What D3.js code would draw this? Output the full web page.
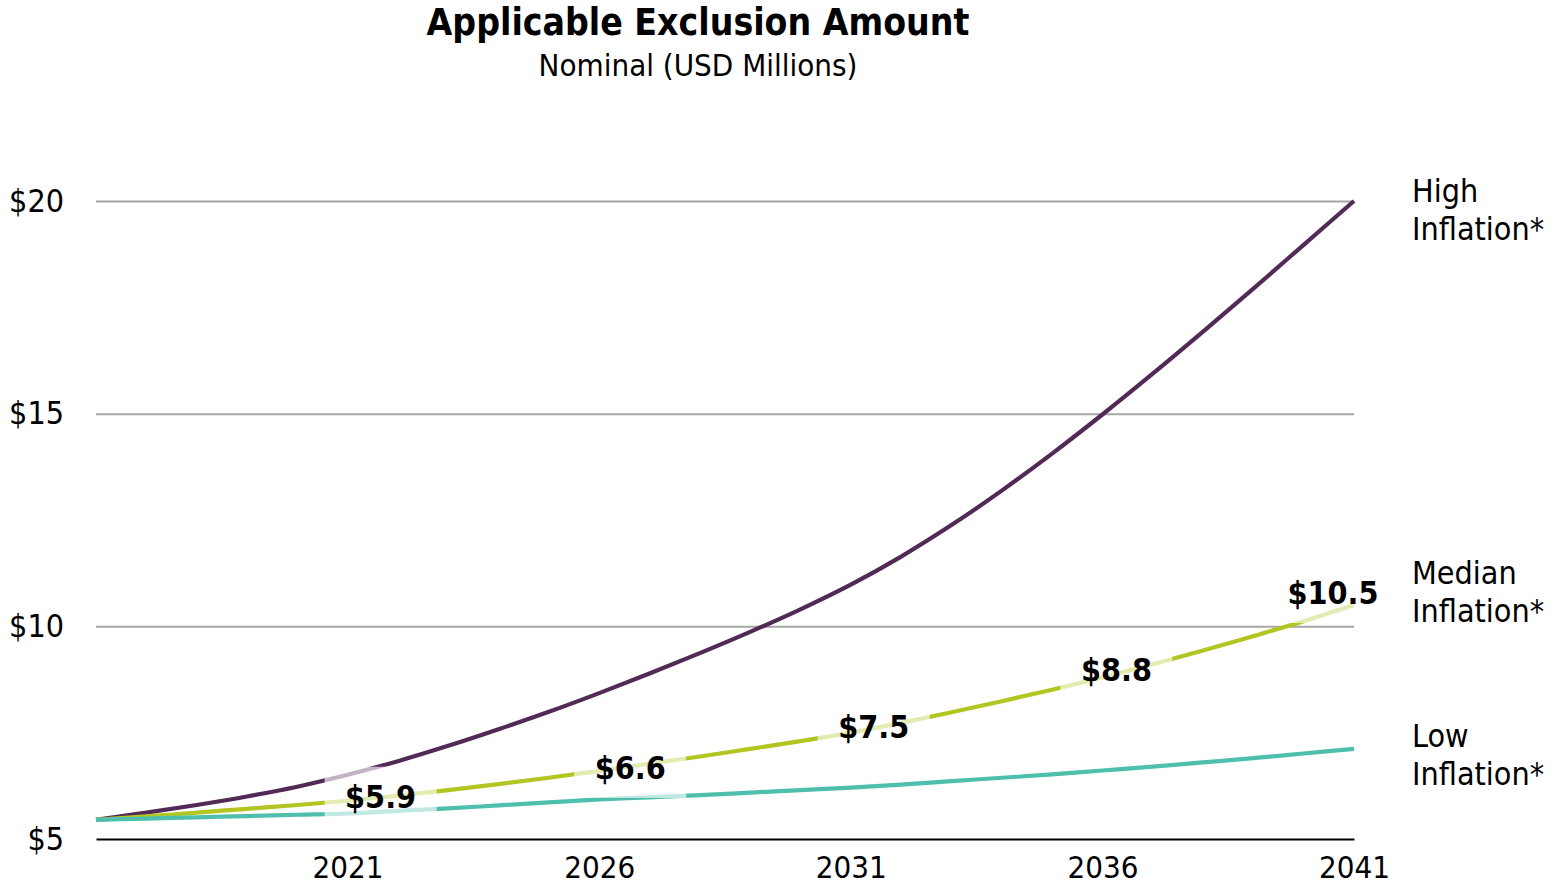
<!DOCTYPE html>
<html><head><meta charset="utf-8">
<script src="https://cdn.jsdelivr.net/npm/d3@7"></script>
<style>
html,body{margin:0;padding:0;background:#fff;}
svg text{font-family:"DejaVu Sans Condensed","DejaVu Sans",sans-serif;font-stretch:condensed;}
</style></head>
<body>
<svg id="chart" width="1560" height="887"></svg>
<script>
// ---- data ----
const years = [2016,2017,2018,2019,2020,2021,2022,2023,2024,2025,2026,2027,2028,2029,2030,2031,2032,2033,2034,2035,2036,2037,2038,2039,2040,2041];
const highInflation = [5.45,5.62,5.80,6.00,6.23,6.51,6.83,7.19,7.58,7.99,8.43,8.89,9.37,9.87,10.40,10.98,11.64,12.38,13.19,14.06,14.98,15.94,16.93,17.94,18.97,20.0];
const medianInflation = [5.45,5.53,5.62,5.71,5.80,5.90,6.02,6.15,6.29,6.44,6.60,6.77,6.94,7.12,7.30,7.50,7.73,7.98,8.24,8.51,8.80,9.11,9.43,9.77,10.12,10.50];
const lowInflation = [5.45,5.48,5.51,5.54,5.57,5.60,5.66,5.72,5.79,5.86,5.93,5.98,6.03,6.09,6.15,6.21,6.28,6.36,6.44,6.52,6.61,6.70,6.80,6.90,7.01,7.12];
const seriesNames = [["High","Inflation*"],["Median","Inflation*"],["Low","Inflation*"]];
const labelYears = [2021,2026,2031,2036,2041];
const labelValues = [5.9,6.6,7.5,8.8,10.5];
const labelTexts = ["$5.9","$6.6","$7.5","$8.8","$10.5"];
const xTicks = [2021,2026,2031,2036,2041];
const yTicks = [5,10,15,20];
const title = "Applicable Exclusion Amount";
const subtitle = "Nominal (USD Millions)";

// ---- layout ----
const colors = ["#522a56","#b2c521","#4fbfad"];
const labelDx = [33,31,23,14,-21];
const labelDy = [-4,-3,-6,-7,-12];
const nameY = [212,594,757];

const svg = d3.select("#chart");
const x = d3.scaleLinear().domain([2016,2041]).range([96,1354]);
const y = d3.scaleLinear().domain([5,20]).range([839,201]);

// title
svg.append("text").attr("x",698).attr("y",35).attr("text-anchor","middle")
  .style("font-size","37px").style("font-weight","bold").text(title);
svg.append("text").attr("x",698).attr("y",76).attr("text-anchor","middle")
  .style("font-size","31px").text(subtitle);

// gridlines
const gy = svg.append("g").attr("transform","translate(96,0)")
  .call(d3.axisLeft(y).tickValues(yTicks.filter(d=>d>5)).tickSize(-(1354-96)).tickFormat(""));
gy.select(".domain").remove();
gy.selectAll(".tick line").attr("stroke","#a6a6a6").attr("stroke-width",2);

// y labels
const yl = svg.append("g").attr("transform","translate(64,0)")
  .call(d3.axisLeft(y).tickValues(yTicks).tickSize(0).tickPadding(0).tickFormat(d=>"$"+d));
yl.select(".domain").remove();
yl.selectAll("text").style("font-size","32px").attr("fill","#000").style("font-family",null);

// x axis
const xa = svg.append("g").attr("transform","translate(0,839)")
  .call(d3.axisBottom(x).tickValues(xTicks).tickSize(0).tickPadding(17).tickFormat(d3.format("d")));
xa.select(".domain").attr("stroke","#000").attr("stroke-width",2);
xa.selectAll("text").style("font-size","31px").attr("fill","#000").style("font-family",null);

// lines
const allSeries = [highInflation, medianInflation, lowInflation];
const line = d3.line().x((d,i)=>x(years[i])).y(d=>y(d)).curve(d3.curveMonotoneX);
allSeries.forEach((s,k)=>{
  svg.append("path").datum(s).attr("d",line).attr("fill","none")
    .attr("stroke",colors[k]).attr("stroke-width",4.2).attr("stroke-linecap","butt");
});

// label backgrounds + labels
labelYears.forEach((yr,i)=>{
  const cx = x(yr)+labelDx[i], cy = y(labelValues[i])+labelDy[i];
  svg.append("rect").attr("x",cx-56).attr("y",cy-30).attr("width",112).attr("height",60)
    .attr("fill","#fff").attr("fill-opacity",0.65);
});
labelYears.forEach((yr,i)=>{
  const cx = x(yr)+labelDx[i], cy = y(labelValues[i])+labelDy[i];
  svg.append("text").attr("x",cx).attr("y",cy+11).attr("text-anchor","middle")
    .style("font-size","32px").style("font-weight","bold").text(labelTexts[i]);
});

// series names
seriesNames.forEach((n,k)=>{
  const t = svg.append("text").attr("x",1412).attr("y",nameY[k]-10).style("font-size","32px");
  t.append("tspan").attr("x",1412).attr("dy",0).text(n[0]);
  t.append("tspan").attr("x",1412).attr("dy",38).text(n[1]);
});
</script>
</body></html>
